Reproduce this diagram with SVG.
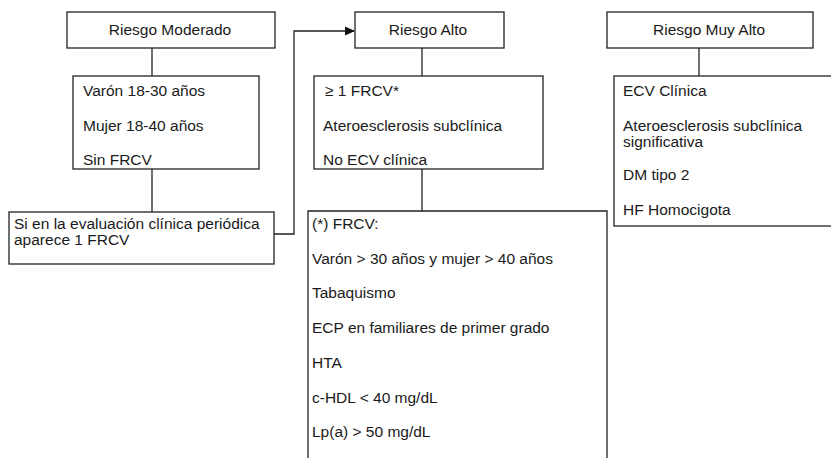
<svg xmlns="http://www.w3.org/2000/svg" width="831" height="458" viewBox="0 0 831 458">
<style>
  .box { fill: #ffffff; stroke: #222222; stroke-width: 1.3; }
  .ln { fill: none; stroke: #222222; stroke-width: 1.3; }
  text { font-family: "Liberation Sans", Arial, sans-serif; font-size: 15.5px; fill: #1a1a1a; }
  .c { text-anchor: middle; }
</style>
<defs>
  <marker id="arr" markerWidth="10" markerHeight="10" refX="9" refY="5" orient="auto" markerUnits="userSpaceOnUse">
    <path d="M0,0.5 L10,5 L0,9.5 Z" fill="#111111"/>
  </marker>
</defs>
<rect width="831" height="458" fill="#ffffff"/>
<g id="connectors">
  <line class="ln" x1="152" y1="48" x2="152" y2="76"/>
  <line class="ln" x1="152" y1="169" x2="152" y2="212"/>
  <polyline class="ln" points="274,234 294,234 294,31 354,31" marker-end="url(#arr)"/>
  <line class="ln" x1="422" y1="48" x2="422" y2="76"/>
  <line class="ln" x1="422" y1="169" x2="422" y2="211"/>
  <line class="ln" x1="699" y1="48" x2="699" y2="76"/>
</g>
<g id="riesgo-moderado">
  <rect class="box" x="67" y="12" width="208" height="36"/>
  <text class="c" x="170" y="35">Riesgo Moderado</text>
</g>
<g id="moderado-criterios">
  <rect class="box" x="73" y="76" width="186" height="93"/>
  <text x="83" y="96">Varón 18-30 años</text>
  <text x="83" y="131">Mujer 18-40 años</text>
  <text x="83" y="165">Sin FRCV</text>
</g>
<g id="evaluacion">
  <rect class="box" x="9" y="212" width="265" height="52"/>
  <text x="14" y="229">Si en la evaluación clínica periódica</text>
  <text x="14" y="245">aparece 1 FRCV</text>
</g>
<g id="riesgo-alto">
  <rect class="box" x="355" y="12" width="149" height="36"/>
  <text class="c" x="428" y="35">Riesgo Alto</text>
</g>
<g id="alto-criterios">
  <rect class="box" x="314" y="76" width="229" height="93"/>
  <text x="325" y="96">≥ 1 FRCV*</text>
  <text x="323" y="131">Ateroesclerosis subclínica</text>
  <text x="323" y="165">No ECV clínica</text>
</g>
<g id="frcv">
  <path class="ln" d="M308,470 L308,211 L607,211 L607,470" fill="#ffffff"/>
  <text x="312" y="229">(*) FRCV:</text>
  <text x="312" y="264">Varón &gt; 30 años y mujer &gt; 40 años</text>
  <text x="312" y="298">Tabaquismo</text>
  <text x="312" y="333">ECP en familiares de primer grado</text>
  <text x="312" y="368">HTA</text>
  <text x="312" y="403">c-HDL &lt; 40 mg/dL</text>
  <text x="312" y="437">Lp(a) &gt; 50 mg/dL</text>
</g>
<g id="riesgo-muy-alto">
  <rect class="box" x="607" y="12" width="206" height="36"/>
  <text class="c" x="709" y="35">Riesgo Muy Alto</text>
</g>
<g id="muy-alto-criterios">
  <rect class="box" x="614" y="76" width="240" height="150"/>
  <text x="623" y="96">ECV Clínica</text>
  <text x="623" y="131">Ateroesclerosis subclínica</text>
  <text x="623" y="147">significativa</text>
  <text x="623" y="180">DM tipo 2</text>
  <text x="623" y="215">HF Homocigota</text>
</g>
</svg>
